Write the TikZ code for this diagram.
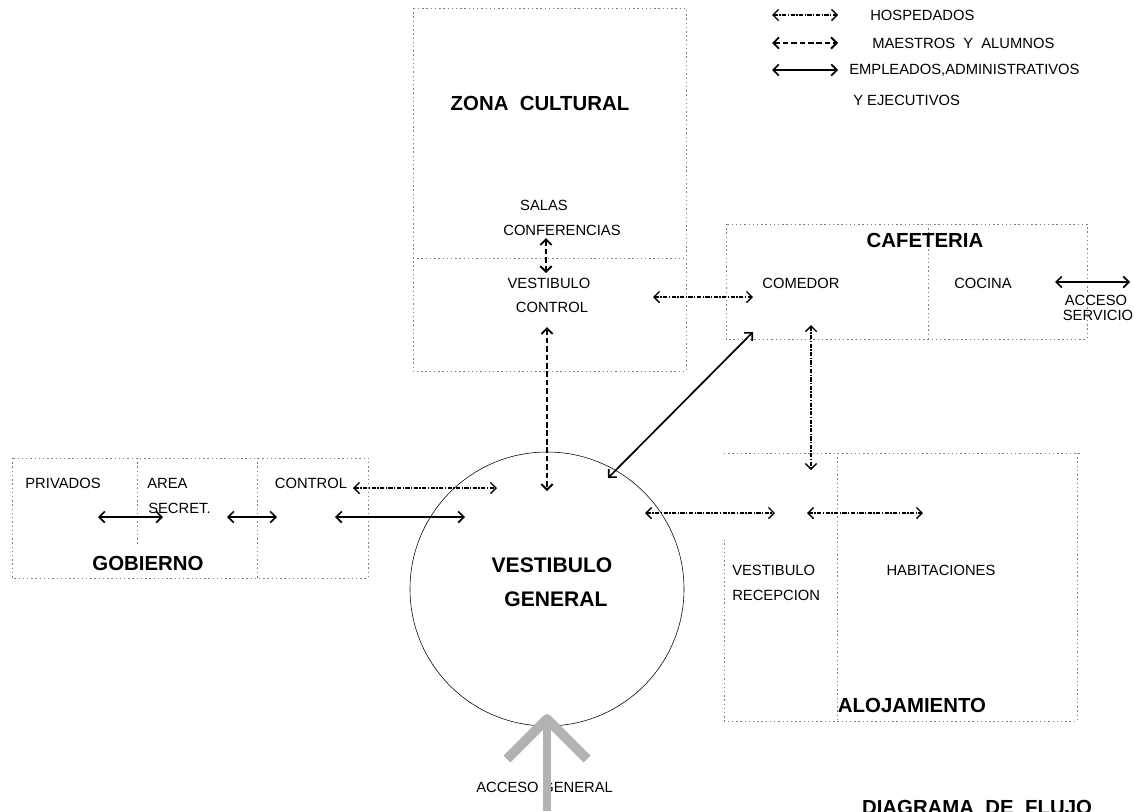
\documentclass[tikz,border=0pt]{standalone}
\usepackage{fontspec}
\setmainfont{Liberation Sans}
\usetikzlibrary{arrows.meta}

\begin{document}
\begin{tikzpicture}[x=0.025cm,y=-0.025cm,
  >={Straight Barb[length=4pt,width=8pt]},
  zone/.style={gray,thin,dash pattern=on 1pt off 2pt},
  hosp/.style={line width=1pt,<->,dash pattern=on 3pt off 1pt on 1pt off 1pt},
  maest/.style={line width=1.3pt,<->,dash pattern=on 4pt off 2pt},
  empl/.style={line width=1.2pt,<->},
  lbl/.style={font=\fontsize{10.5}{12}\selectfont,inner sep=0pt},
  zlbl/.style={font=\fontsize{14.5}{16}\selectfont\bfseries,inner sep=0pt}]
\useasboundingbox (0,0) rectangle (1134,811);

% legend
\coordinate (l1a) at (772,15); \coordinate (l1b) at (838,15);
\coordinate (l2a) at (772,43); \coordinate (l2b) at (838,43);
\coordinate (l3a) at (772,70); \coordinate (l3b) at (838,70);
\draw[hosp] (l1a) -- (l1b);
\draw[maest] (l2a) -- (l2b);
\draw[empl] (l3a) -- (l3b);
\node[lbl,anchor=west] (hosp) at (870,15) {HOSPEDADOS};
\node[lbl,anchor=west] (maes) at (872,43) {MAESTROS\ \ Y\ \ ALUMNOS};
\node[lbl,anchor=west] (empl) at (849,70) {EMPLEADOS,ADMINISTRATIVOS};
\node[lbl,anchor=west] (ejec) at (853,100) {Y EJECUTIVOS};

% zona cultural
\draw[zone] (413,8) rectangle (686,371);
\draw[zone] (413,258) -- (686,258);
\node[zlbl] (zona) at (540,103) {ZONA\ \ CULTURAL};
\node[lbl] (salas) at (544,205) {SALAS};
\node[lbl] (conf) at (562,230) {CONFERENCIAS};
\node[lbl] (vcont) at (549,283) {VESTIBULO};
\node[lbl] (cont) at (552,307) {CONTROL};

% cafeteria
\draw[zone] (726,224) rectangle (1087,339);
\draw[zone] (928,224) -- (928,339);
\node[zlbl] (cafe) at (925,240) {CAFETERIA};
\node[lbl] (comedor) at (801,283) {COMEDOR};
\node[lbl] (cocina) at (983,283) {COCINA};
\node[lbl] (acceso) at (1096,300) {ACCESO};
\node[lbl] (serv) at (1098,315) {SERVICIO};

% gobierno
\draw[zone] (12,458) rectangle (368,578);
\draw[zone] (137,458) -- (137,545);
\draw[zone] (257,458) -- (257,578);
\node[lbl] (priv) at (63,483) {PRIVADOS};
\node[lbl,anchor=west] (area) at (147,483) {AREA};
\node[lbl,anchor=west] (secr) at (148,508) {SECRET.};
\node[lbl] (gcont) at (311,483) {CONTROL};
\node[zlbl] (gob) at (148,563) {GOBIERNO};

% alojamiento
\draw[zone] (724,453) -- (1082,453);
\draw[zone] (1077,453) -- (1077,721) -- (724,721) -- (724,540);
\draw[zone] (837,453) -- (837,721);
\node[lbl,anchor=west] (vrec) at (732,570) {VESTIBULO};
\node[lbl,anchor=west] (recep) at (732,595) {RECEPCION};
\node[lbl] (habit) at (941,570) {HABITACIONES};
\node[zlbl] (aloj) at (912,705) {ALOJAMIENTO};

% vestibulo general
\draw[thin] (547,589) circle (137);
\node[zlbl,font=\fontsize{15}{17}\selectfont\bfseries] (vgen) at (552,565) {VESTIBULO};
\node[zlbl,font=\fontsize{15}{17}\selectfont\bfseries] (gen) at (556,599) {GENERAL};

% flujos
\coordinate (s1) at (546,238); \coordinate (s2) at (546,273);
\coordinate (v1) at (547,327); \coordinate (v2) at (547,491);
\coordinate (h1) at (653,297); \coordinate (h2) at (753,297);
\coordinate (d1) at (753,332); \coordinate (d2) at (608,478);
\coordinate (c1) at (811,325); \coordinate (c2) at (811,470);
\coordinate (a1) at (1055,282); \coordinate (a2) at (1130,282);
\draw[maest] (s1) -- (s2);
\draw[maest] (v1) -- (v2);
\draw[hosp] (h1) -- (h2);
\draw[empl] (d1) -- (d2);
\draw[hosp] (c1) -- (c2);
\draw[empl] (a1) -- (a2);

\coordinate (g1) at (98,517); \coordinate (g2) at (163,517);
\coordinate (g3) at (227,517); \coordinate (g4) at (277,517);
\coordinate (g5) at (353,488); \coordinate (g6) at (497,488);
\coordinate (g7) at (335,517); \coordinate (g8) at (465,517);
\draw[empl] (g1) -- (g2);
\draw[empl] (g3) -- (g4);
\draw[hosp] (g5) -- (g6);
\draw[empl] (g7) -- (g8);

\coordinate (r1) at (645,513); \coordinate (r2) at (775,513);
\coordinate (r3) at (807,513); \coordinate (r4) at (923,513);
\draw[hosp] (r1) -- (r2);
\draw[hosp] (r3) -- (r4);

% acceso general
\node[lbl,anchor=east] (acc) at (539,787) {ACCESO};
\node[lbl,anchor=west] (accg) at (542,787) {GENERAL};
\coordinate (ag1) at (547,811); \coordinate (ag2) at (547,719);
\coordinate (agl) at (507,759); \coordinate (agr) at (587,759);
\draw[gray!60,line width=5pt] (ag1) -- (ag2);
\draw[gray!60,line width=7pt,line join=round] (agl) -- (ag2) -- (agr);

\node[zlbl,anchor=north] (titulo) at (977,800) {DIAGRAMA\ \ DE\ \ FLUJO};
\end{tikzpicture}
\end{document}
